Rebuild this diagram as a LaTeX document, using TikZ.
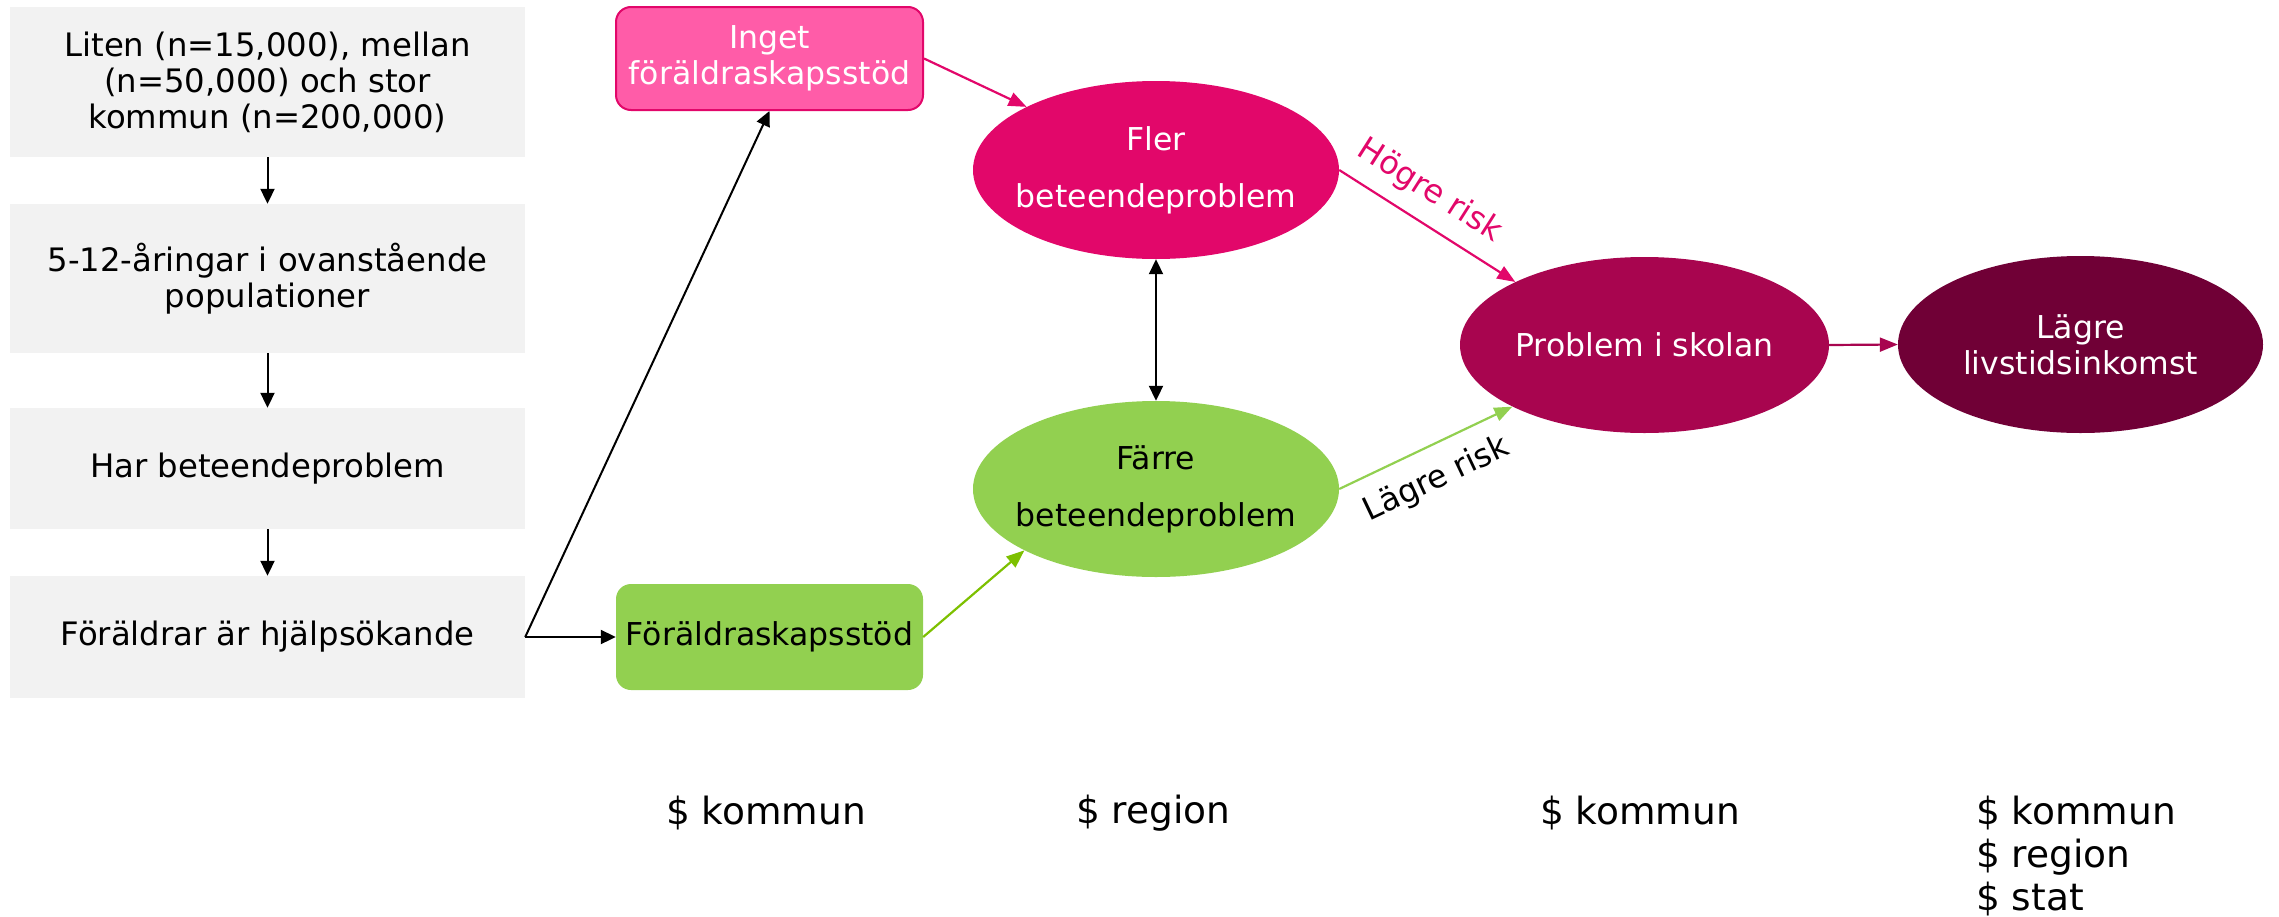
\documentclass[tikz,border=0pt]{standalone}
\usepackage{fontspec}
\setmainfont{DejaVu Sans}
\usetikzlibrary{shapes.geometric,arrows.meta}
\definecolor{boxgray}{HTML}{F2F2F2}
\definecolor{magenta}{HTML}{E2076A}
\definecolor{pinkfill}{HTML}{FF5CA8}
\definecolor{lgreen}{HTML}{92D050}
\definecolor{agreen}{HTML}{7DC000}
\definecolor{plum}{HTML}{A8054F}
\definecolor{wine}{HTML}{700036}
\newcommand{\zb}[1]{\makebox[0pt][c]{#1}}
\begin{document}
\begin{tikzpicture}[x=1pt,y=-1pt,
  gbox/.style={rectangle, fill=boxgray, minimum width=515pt, inner sep=0pt, align=center, font=\fontsize{32.3}{36}\selectfont},
  rbox/.style={rectangle, rounded corners=15pt, minimum width=307pt, inner sep=0pt, align=center, font=\fontsize{31.5}{36}\selectfont},
  ell/.style={ellipse, inner sep=0pt, align=center, font=\fontsize{31.5}{57}\selectfont},
  cost/.style={anchor=west, align=left, inner sep=0pt, font=\fontsize{37.5}{43}\selectfont},
  blk/.style={line width=2pt, -{Triangle[length=15pt,width=14pt]}},
  carrow/.style={line width=2.2pt, -{Triangle[length=18pt,width=14pt]}},
  risk/.style={sloped, inner sep=17pt, font=\fontsize{32}{36}\selectfont}
]
\useasboundingbox (0,0) rectangle (2279,916);

% left column
\node[gbox, minimum height=150pt] (b1) at (267.5,82) {Liten (n=15,000), mellan\\(n=50,000) och stor\\kommun (n=200,000)};
\node[gbox, minimum height=149pt] (b2) at (267.5,278.5) {5-12-åringar i ovanstående\\populationer};
\node[gbox, minimum height=121pt] (b3) at (267.5,468.5) {Har beteendeproblem};
\node[gbox, minimum height=122pt] (b4) at (267.5,637) {Föräldrar är hjälpsökande};

\draw[blk] (b1) -- (b2);
\draw[blk] (b2) -- (b3);
\draw[blk] (b3) -- (b4);

% interventions
\node[rbox, minimum height=103pt, fill=pinkfill, draw=magenta, line width=2pt, text=white] (inget) at (769.5,58.5) {Inget\\föräldraskapsstöd};
\node[rbox, minimum height=106pt, fill=lgreen] (stod) at (769.5,637) {Föräldraskapsstöd};

\draw[blk] (b4.east) -- (inget.south);
\draw[blk] (b4.east) -- (stod.west);

% outcomes
\node[ell, minimum width=366pt, minimum height=178pt, fill=magenta, text=white] (fler) at (1156,170) {\zb{Fler}\\\zb{beteendeproblem}};
\node[ell, minimum width=366pt, minimum height=176pt, fill=lgreen, text=black] (farre) at (1156,489) {\zb{Färre}\\\zb{beteendeproblem}};
\node[ell, minimum width=369pt, minimum height=176pt, fill=plum, text=white, font=\fontsize{31.5}{36}\selectfont] (skolan) at (1644.5,345) {\zb{Problem i skolan}};
\node[ell, minimum width=365pt, minimum height=177pt, fill=wine, text=white, font=\fontsize{31.5}{36}\selectfont] (lagre) at (2080.5,344.5) {\zb{Lägre}\\\zb{livstidsinkomst}};

\draw[carrow, magenta] (inget.east) -- (fler.154.5);
\draw[carrow, agreen] (stod.east) -- (farre.205.5);
\draw[line width=2pt, {Triangle[length=15pt,width=14pt]}-{Triangle[length=15pt,width=14pt]}] (fler.south) -- (farre.north);

\draw[carrow, magenta] (fler.east) -- node[risk, above, pos=0.42, inner sep=14pt, text=magenta] {Högre risk} (skolan.154.5);
\draw[carrow, lgreen] (farre.east) -- node[risk, below, pos=0.48, text=black] {Lägre risk} (skolan.205.5);
\draw[carrow, plum] (skolan.east) -- (lagre.west);

% costs
\node[cost] (k1) at (666,813) {\$ kommun};
\node[cost] (k2) at (1076,813) {\$ region};
\node[cost] (k3) at (1540,813) {\$ kommun};
\node[cost] (k4) at (1976,856) {\$ kommun\\\$ region\\\$ stat};
\end{tikzpicture}
\end{document}
